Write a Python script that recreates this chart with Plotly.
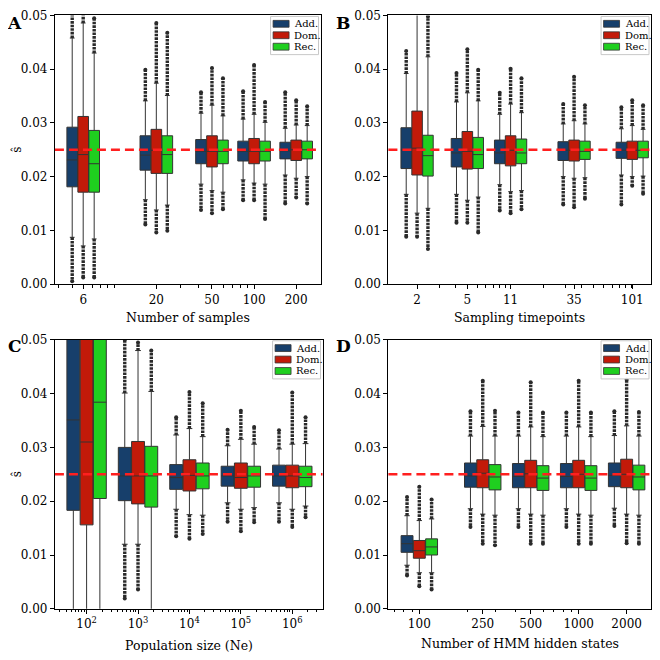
import numpy as np
import plotly.graph_objects as go

SERIES = ["Add.", "Dom.", "Rec."]
COLORS = ["#173f6b", "#c21a09", "#1fcf1f"]
TRUE_S = 0.025

# ---------------- Panel A : Number of samples ----------------
A_cats = [6, 20, 50, 100, 200]
A_ticks = ["6", "20", "50", "100", "200"]
A_q1 = [[0.0181, 0.0212, 0.0224, 0.0229, 0.0233],
        [0.0171, 0.0206, 0.0218, 0.0224, 0.0230],
        [0.0171, 0.0206, 0.0224, 0.0229, 0.0233]]
A_med = [[0.0231, 0.0240, 0.0247, 0.0247, 0.0248],
         [0.0241, 0.0249, 0.0247, 0.0247, 0.0250],
         [0.0224, 0.0241, 0.0247, 0.0247, 0.0250]]
A_q3 = [[0.0292, 0.0276, 0.0269, 0.0266, 0.0264],
        [0.0312, 0.0288, 0.0276, 0.0271, 0.0268],
        [0.0286, 0.0276, 0.0268, 0.0266, 0.0266]]
A_lo = [[0.0087, 0.0157, 0.0186, 0.0194, 0.0203],
        [0.0071, 0.0138, 0.0174, 0.0188, 0.0197],
        [0.0084, 0.0147, 0.0171, 0.0186, 0.0200]]
A_hi = [[0.0458, 0.0341, 0.0318, 0.0307, 0.0290],
        [0.0486, 0.0374, 0.0333, 0.0316, 0.0296],
        [0.0430, 0.0351, 0.0313, 0.0301, 0.0295]]
A_min = [[0.0005, 0.0111, 0.0138, 0.0156, 0.0150],
         [0.0012, 0.0096, 0.0132, 0.0156, 0.0161],
         [0.0012, 0.0099, 0.0139, 0.0121, 0.0150]]
A_max = [[0.0520, 0.0399, 0.0357, 0.0359, 0.0357],
         [0.0550, 0.0486, 0.0402, 0.0408, 0.0342],
         [0.0495, 0.0468, 0.0383, 0.0339, 0.0331]]

# ---------------- Panel B : Sampling timepoints ----------------
B_cats = [2, 5, 11, 35, 101]
B_ticks = ["2", "5", "11", "35", "101"]
B_q1 = [[0.0215, 0.0218, 0.0224, 0.0230, 0.0234],
        [0.0203, 0.0214, 0.0220, 0.0229, 0.0232],
        [0.0201, 0.0215, 0.0224, 0.0232, 0.0235]]
B_med = [[0.0250, 0.0244, 0.0244, 0.0249, 0.0249],
         [0.0253, 0.0247, 0.0249, 0.0249, 0.0249],
         [0.0239, 0.0241, 0.0244, 0.0247, 0.0249]]
B_q3 = [[0.0291, 0.0271, 0.0268, 0.0265, 0.0264],
        [0.0322, 0.0284, 0.0276, 0.0268, 0.0266],
        [0.0277, 0.0273, 0.0270, 0.0266, 0.0266]]
B_lo = [[0.0167, 0.0167, 0.0185, 0.0200, 0.0203],
        [0.0132, 0.0156, 0.0172, 0.0197, 0.0200],
        [0.0141, 0.0162, 0.0174, 0.0198, 0.0201]]
B_hi = [[0.0392, 0.0339, 0.0316, 0.0298, 0.0289],
        [0.0520, 0.0356, 0.0335, 0.0304, 0.0295],
        [0.0423, 0.0341, 0.0319, 0.0298, 0.0288]]
B_min = [[0.0088, 0.0114, 0.0137, 0.0148, 0.0148],
         [0.0088, 0.0114, 0.0132, 0.0143, 0.0183],
         [0.0065, 0.0096, 0.0139, 0.0159, 0.0168]]
B_max = [[0.0434, 0.0393, 0.0356, 0.0335, 0.0329],
         [0.0580, 0.0437, 0.0401, 0.0386, 0.0342],
         [0.0498, 0.0399, 0.0383, 0.0333, 0.0333]]

# ---------------- Panel C : Population size (Ne) ----------------
C_cats = [1e2, 1e3, 1e4, 1e5, 1e6]
C_ticks = ["10<sup>2</sup>", "10<sup>3</sup>", "10<sup>4</sup>", "10<sup>5</sup>", "10<sup>6</sup>"]
C_q1 = [[0.0183, 0.0201, 0.0222, 0.0228, 0.0228],
        [0.0156, 0.0195, 0.0219, 0.0224, 0.0225],
        [0.0205, 0.0189, 0.0223, 0.0226, 0.0227]]
C_med = [[0.0351, 0.0247, 0.0244, 0.0247, 0.0247],
         [0.0310, 0.0247, 0.0248, 0.0244, 0.0247],
         [0.0384, 0.0247, 0.0247, 0.0247, 0.0244]]
C_q3 = [[0.0560, 0.0300, 0.0268, 0.0265, 0.0267],
        [0.0540, 0.0311, 0.0277, 0.0271, 0.0267],
        [0.0580, 0.0302, 0.0271, 0.0265, 0.0265]]
C_lo = [[-0.0100, 0.0120, 0.0185, 0.0197, 0.0197],
        [-0.0100, 0.0120, 0.0175, 0.0185, 0.0185],
        [-0.0100, -0.0020, 0.0174, 0.0188, 0.0191]]
C_hi = [[0.0800, 0.0401, 0.0323, 0.0303, 0.0297],
        [0.0800, 0.0480, 0.0335, 0.0315, 0.0306],
        [0.0800, 0.0404, 0.0320, 0.0306, 0.0307]]
C_min = [[-0.0100, 0.0019, 0.0135, 0.0162, 0.0162],
         [-0.0100, 0.0036, 0.0130, 0.0144, 0.0152],
         [-0.0100, -0.0020, 0.0139, 0.0161, 0.0170]]
C_max = [[0.0800, 0.0500, 0.0356, 0.0333, 0.0332],
         [0.0800, 0.0495, 0.0403, 0.0368, 0.0402],
         [0.0800, 0.0480, 0.0382, 0.0338, 0.0356]]

# ---------------- Panel D : Number of HMM hidden states ----------------
D_cats = [100, 250, 500, 1000, 2000]
D_ticks = ["100", "250", "500", "1000", "2000"]
D_q1 = [[0.0105, 0.0226, 0.0225, 0.0225, 0.0227],
        [0.0094, 0.0225, 0.0225, 0.0225, 0.0225],
        [0.0100, 0.0221, 0.0220, 0.0220, 0.0221]]
D_med = [[0.0121, 0.0247, 0.0246, 0.0246, 0.0248],
         [0.0108, 0.0252, 0.0251, 0.0250, 0.0250],
         [0.0115, 0.0245, 0.0243, 0.0243, 0.0245]]
D_q3 = [[0.0136, 0.0271, 0.0270, 0.0270, 0.0271],
        [0.0127, 0.0277, 0.0276, 0.0276, 0.0278],
        [0.0130, 0.0268, 0.0266, 0.0266, 0.0267]]
D_lo = [[0.0081, 0.0186, 0.0186, 0.0186, 0.0187],
        [0.0067, 0.0176, 0.0176, 0.0176, 0.0176],
        [0.0067, 0.0174, 0.0174, 0.0174, 0.0174]]
D_hi = [[0.0173, 0.0321, 0.0321, 0.0321, 0.0322],
        [0.0164, 0.0339, 0.0338, 0.0338, 0.0340],
        [0.0167, 0.0321, 0.0320, 0.0320, 0.0321]]
D_min = [[0.0062, 0.0152, 0.0152, 0.0152, 0.0154],
         [0.0042, 0.0121, 0.0121, 0.0121, 0.0122],
         [0.0036, 0.0118, 0.0121, 0.0121, 0.0121]]
D_max = [[0.0208, 0.0367, 0.0365, 0.0365, 0.0367],
         [0.0227, 0.0424, 0.0421, 0.0424, 0.0426],
         [0.0203, 0.0368, 0.0365, 0.0365, 0.0366]]

# ---------------- layout / style ----------------
# geometry is given in page pixels of the 660x660 window; the page body has an
# 8px margin, so the figure itself is 644x644 and shifted by 8px.
PAGE_M = 8
W = H = 660 - 2 * PAGE_M
FONT = "DejaVu Serif"


def px(p):
    return min(1.0, max(0.0, (p - PAGE_M) / W))


def py(p):
    return min(1.0, max(0.0, 1 - (p - PAGE_M) / H))


panels = [
    dict(letter="A", title="Number of samples", cats=A_cats, ticks=A_ticks,
         stats=(A_q1, A_med, A_q3, A_lo, A_hi, A_min, A_max),
         box=(55, 321, 8.5, 283), xr=(0.576, 2.475), off=0.0785, ytitle=True, xt_y=317),
    dict(letter="B", title="Sampling timepoints", cats=B_cats, ticks=B_ticks,
         stats=(B_q1, B_med, B_q3, B_lo, B_hi, B_min, B_max),
         box=(389, 652, 8.5, 283), xr=(0.074, 2.153), off=0.086, ytitle=False, xt_y=317),
    dict(letter="C", title="Population size (Ne)", cats=C_cats, ticks=C_ticks,
         stats=(C_q1, C_med, C_q3, C_lo, C_hi, C_min, C_max),
         box=(55, 323, 340, 615), xr=(1.384, 6.588), off=0.258, ytitle=True, xt_y=652),
    dict(letter="D", title="Number of HMM hidden states", cats=D_cats, ticks=D_ticks,
         stats=(D_q1, D_med, D_q3, D_lo, D_hi, D_min, D_max),
         box=(389, 652, 340, 615), xr=(1.806, 3.454), off=0.077, ytitle=False, xt_y=650),
]

fig = go.Figure()
layout = dict(width=W, height=H, margin=dict(l=0, r=0, t=0, b=0),
              paper_bgcolor="white", plot_bgcolor="white",
              font=dict(family=FONT, size=12, color="black"),
              showlegend=False, annotations=[], shapes=[])

for i, p in enumerate(panels):
    k = "" if i == 0 else str(i + 1)
    xa, ya = "x" + k, "y" + k
    x0, x1, y0, y1 = p["box"]
    q1, med, q3, lo, hi, mn, mx = p["stats"]
    logc = np.log10(np.array(p["cats"], dtype=float))
    bw = p["off"] * 0.97
    for s, name in enumerate(SERIES):
        pos = logc + (s - 1) * p["off"]
        fig.add_trace(go.Box(
            x=pos, q1=q1[s], median=med[s], q3=q3[s],
            lowerfence=lo[s], upperfence=hi[s],
            width=bw, whiskerwidth=0.45, boxpoints=False,
            fillcolor=COLORS[s], line=dict(color="#333333", width=1),
            name=name, xaxis=xa, yaxis=ya, hoverinfo="skip"))
        # outlier columns: from whisker end to extreme observed value
        sx, sy, ex, ey = [], [], [], []
        for j in range(len(pos)):
            for a, b in ((hi[s][j], mx[s][j]), (lo[s][j], mn[s][j])):
                if a != b:
                    sx += [pos[j], pos[j], None]
                    sy += [a, b, None]
                    ex.append(pos[j]); ey.append(b)
        fig.add_trace(go.Scatter(x=sx, y=sy, mode="lines", xaxis=xa, yaxis=ya,
                                 line=dict(color="#2a2a2a", width=3.4, dash="2.6px,1px"),
                                 hoverinfo="skip"))
        fig.add_trace(go.Scatter(x=ex, y=ey, mode="markers", xaxis=xa, yaxis=ya,
                                 marker=dict(color="#2a2a2a", size=4),
                                 hoverinfo="skip"))

    lo_e, hi_e = p["xr"]
    minor_vals = [np.log10(m * 10.0 ** e) for e in range(0, 8) for m in range(1, 10)]
    minor_vals = [v for v in minor_vals if lo_e < v < hi_e
                  and not np.any(np.isclose(v, logc))]
    layout["xaxis" + k] = dict(
        domain=[px(x0), px(x1)], anchor=ya, range=[lo_e, hi_e], showgrid=False, zeroline=False,
        showline=True, linecolor="black", linewidth=1.2, mirror=True,
        tickmode="array", tickvals=list(logc), ticktext=p["ticks"],
        ticks="outside", ticklen=4, tickwidth=1, tickcolor="black",
        tickfont=dict(family=FONT, size=12),
        minor=dict(tickmode="array", tickvals=minor_vals, ticks="outside",
                   ticklen=2.5, tickwidth=0.8, tickcolor="black", showgrid=False))
    layout["yaxis" + k] = dict(
        domain=[py(y1), py(y0)], anchor=xa, range=[0, 0.05], showgrid=False, zeroline=False,
        showline=True, linecolor="black", linewidth=1.2, mirror=True,
        tickvals=[0, 0.01, 0.02, 0.03, 0.04, 0.05], tickformat=".2f",
        ticks="outside", ticklen=4, tickwidth=1, tickcolor="black",
        tickfont=dict(family=FONT, size=12))

    # reference line at the true selection coefficient
    layout["shapes"].append(dict(type="line", xref=xa + " domain", yref=ya,
                                 x0=0, x1=1, y0=TRUE_S, y1=TRUE_S,
                                 line=dict(color="#ff1f1f", width=2.6, dash="9px,5px")))

    # legend (frame + patches + labels)
    lx0, lx1, ly0, ly1 = x1 - 50, x1 - 2, y0 + 1, y0 + 40
    layout["shapes"].append(dict(type="rect", xref="paper", yref="paper",
                                 x0=px(lx0), x1=px(lx1), y0=py(ly1), y1=py(ly0),
                                 fillcolor="rgba(255,255,255,0.92)",
                                 line=dict(color="#c8c8c8", width=1)))
    for s, name in enumerate(SERIES):
        cy = y0 + 8.5 + s * 11.7
        layout["shapes"].append(dict(type="rect", xref="paper", yref="paper",
                                     x0=px(lx0 + 2.5), x1=px(lx0 + 18.5),
                                     y0=py(cy + 3.5), y1=py(cy - 3.5),
                                     fillcolor=COLORS[s], line=dict(color="#333333", width=0.8)))
        layout["annotations"].append(dict(text=name, xref="paper", yref="paper",
                                          x=px(lx0 + 21.5), y=py(cy), showarrow=False,
                                          xanchor="left", yanchor="middle",
                                          font=dict(family=FONT, size=10)))

    layout["annotations"].append(dict(text=p["title"], xref=xa + " domain", x=0.5,
                                      yref="paper", y=py(p["xt_y"]), showarrow=False,
                                      xanchor="center", yanchor="middle",
                                      font=dict(family=FONT, size=12.5)))
    layout["annotations"].append(dict(text="<b>" + p["letter"] + "</b>", xref="paper", yref="paper",
                                      x=px(max(x0 - 45, 15)), y=py(max(y0 + 6, 16)), showarrow=False,
                                      xanchor="center", yanchor="middle",
                                      font=dict(family=FONT, size=17)))
    if p["ytitle"]:
        layout["annotations"].append(dict(text="ŝ", xref="paper", yref="paper",
                                          x=px(17), y=py((y0 + y1) / 2), showarrow=False,
                                          textangle=-90, xanchor="center", yanchor="middle",
                                          font=dict(family=FONT, size=12)))

fig.update_layout(**layout)
fig.write_html("out.html")
